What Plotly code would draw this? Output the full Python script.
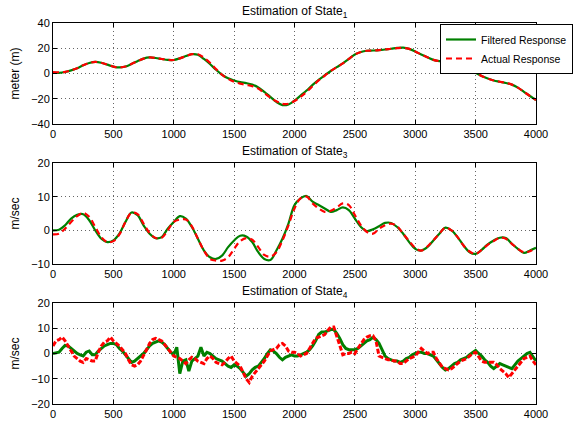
import plotly.graph_objects as go

# ---------------- data ----------------
x_state1 = list(range(0, 4001, 50))
state1_filtered = [0.5, 0.5, 1.2, 2.5, 4.2, 6.5, 8.3, 9.2, 8.5, 7, 5.5, 4.8, 5.5, 7.5, 9.8, 11.8,
                   12.7, 12.3, 11.5, 10.8, 10.7, 12, 13.8, 15.3, 14.8, 11.5, 7.5, 3, -1, -3.8, -5.5,
                   -6.8, -7.6, -8.8, -11, -14.5, -18.5, -22.5, -25, -24.5, -21.5, -17.5, -13.5, -9,
                   -5, -1.5, 2, 5, 8, 11.5, 15, 17, 18, 18.2, 18.5, 19, 19.6, 20.3, 20.5, 19.5, 17.5,
                   15, 12.8, 10.8, 9.8, 9.5, 9.5, 8.5, 6.5, 3.5, 0.5, -2, -4, -5.5, -6.5, -7.5, -8.8,
                   -11.2, -14.5, -17.8, -21]
state1_actual = [1.2, 1.0, 1.3, 2.5, 4.2, 6.5, 8.3, 9.2, 8.5, 7, 5.5, 4.8, 5.5, 7.5, 9.8, 11.8,
                 12.7, 12.3, 11.5, 10.8, 10.7, 12, 13.8, 15.3, 15.2, 12.5, 8.5, 3.5, -1, -4.2, -6.5,
                 -8, -9, -10, -12, -15.5, -19, -22, -24, -24, -21.8, -18.5, -14.5, -10, -5.5, -1.8,
                 2, 5, 8, 11.5, 15, 17, 18, 18.2, 18.5, 19, 19.6, 20.1, 20.3, 19.5, 17.5, 15, 12.8,
                 10.8, 9.8, 9.5, 9.5, 8.5, 6.5, 3.5, 0.5, -2, -4, -5.5, -6.5, -7.5, -8.8, -11.2,
                 -14.5, -17.8, -21]

x_state3 = list(range(0, 4001, 50))
state3_filtered = [0, 0.2, 1.5, 3.5, 4.6, 4.8, 3, 0, -2.5, -3.5, -3, -1, 2.5, 5.3, 4.5, 1.5, -1,
                   -2.3, -2, 0.5, 2.5, 4.2, 3.5, 1, -2.5, -6, -8, -8.5, -7.5, -5, -3, -1.6, -1.8,
                   -3.5, -6.5, -8.5, -8.8, -6, -2.5, 2, 7.5, 9.5, 10.2, 8.5, 7.5, 6.5, 5.5, 6, 6.8,
                   6, 3.5, 1, -0.2, 0.3, 1.2, 2.2, 2.2, 1, -1, -3.5, -5.5, -6, -5, -3, -1, 0.8, 0,
                   -2, -4.5, -6.5, -7, -5.8, -4.2, -3, -2.2, -2.3, -4, -5.5, -6.7, -6, -5.2]
state3_actual = [-1.2, -1, 0.5, 2.5, 4.2, 5.2, 4, 1, -2, -3.5, -3.2, -1.2, 2.5, 5.2, 4.8, 2, -0.8,
                 -2.3, -2.2, 0, 2.5, 3.2, 3.2, 1.2, -2.5, -6, -8.5, -9, -9, -8, -5.5, -3.2, -2.3,
                 -2.8, -5, -7.3, -7.8, -6.5, -3, 1.5, 6.5, 9.5, 10, 8, 6.5, 5.5, 5.8, 6.8, 8, 7.5,
                 4.5, 1.5, -0.5, -1, 0.5, 1.5, 2, 1.2, -1, -3.2, -5.2, -6, -4.8, -3, -1, 0.8, 0,
                 -2, -4.5, -6.3, -7, -5.8, -4.3, -3.2, -2.2, -2.5, -4, -5.5, -6.5, -6.2, -5.2]

x_state4 = list(range(0, 4001, 25))
state4_filtered = [0, 0.3, 0.5, 2, 3.2, 3, 2, 1, 0, -0.5, -1, 0.5, 1, -0.5, -0.5, 1, 2, 3, 3.5, 4,
                   4, 3.5, 2, 1, -0.5, -2, -3.5, -3, -2, -1, 0, 1.5, 3, 4, 4.5, 5, 4.5, 3.5, 2, 0.5,
                   -0.5, 2.5, -8, -3, -2.5, -7, -3, -2, -1, 2.5, -1, 0.5, 0, -1, -2, -2.5, -3, -4,
                   -5, -5.5, -4.5, -5, -6, -7.5, -9, -8, -6.5, -5.5, -5, -3.5, -2, 0, 1.5, 1, 0,
                   -1.5, -2.5, -1.5, -1, -0.5, -1, -1, -0.5, 0, 0.5, 1.5, 3, 5, 7.5, 8.5, 8.5, 9,
                   9.5, 9.5, 8, 6, 3.5, 2, 1.5, 1.5, 1.5, 2, 3, 4, 5, 5.5, 6.5, 5.5, 4, 1.5, -1, -2,
                   -2.5, -3, -3, -3.5, -3, -2, -1.5, -0.5, 0, 0.5, 0.5, 0, 0, -0.5, -1, -2.5, -4,
                   -5.5, -6.5, -6, -5, -4, -3.5, -2.5, -2, -1.5, -0.5, 0.5, 1.2, 0, -1, -2.5, -3.5,
                   -5, -6, -5, -4, -4.5, -5, -5.5, -6, -4.5, -3, -2, -1, 0, 0.5, -1.5, -3]
state4_actual = [3, 5, 5.5, 6.5, 5, 3, 1, -1, -2, -3, -3.5, -2, -2.5, -3, -3, 0.5, 3, 4.5, 5, 6.5,
                 5, 4, 3, 1.5, 0, -2.5, -4.5, -5, -4.5, -3, -1, 1.5, 4, 5.5, 6, 5.5, 5, 3.5, 2,
                 0.5, -1, -1.5, -2, -3, -4, -2.5, -1.5, -2, -3, -3.5, -4, -2, -1, -2, -3.5, -4,
                 -4.5, -3.5, -2, -1, -3, -4, -5, -7.5, -10, -11.5, -9, -7.5, -6, -4.5, -3, -1, 1,
                 1.5, 2, 3.5, 4, 3, 1, 0.5, 0.5, 0, -1, -0.5, 0, 2, 4, 6, 6.5, 7, 7.5, 9, 10.5,
                 10.5, 7, 3, -0.5, 0, 0, 0.5, 0, 2, 4, 5.5, 6.5, 7, 7, 5, -1, -1.5, -2, -2.5, -2.5,
                 -3, -3, -4, -4, -3, -2, -1.5, -1, 0.5, 2, 1, 0, 0.5, 0.5, -2, -4, -5.5, -6, -6.5,
                 -6, -5, -4, -3, -2.5, -2, -1, 0, 0.5, -1.5, -3, -3.5, -3.5, -3.5, -3.5, -4.5, -6,
                 -7, -8, -9.5, -8, -6.5, -5, -3.5, -2, -1.5, -1, -3, -4.5]

titles = ["Estimation of State<sub>1</sub>", "Estimation of State<sub>3</sub>",
          "Estimation of State<sub>4</sub>"]
ylabels = ["meter (m)", "m/sec", "m/sec"]
x_ticks = [0, 500, 1000, 1500, 2000, 2500, 3000, 3500, 4000]
y_ticks = [[-40, -20, 0, 20, 40], [-10, 0, 10, 20], [-20, -10, 0, 10, 20]]
y_ranges = [[-40, 40], [-10, 20], [-20, 20]]
legend_names = ["Filtered Response", "Actual Response"]

# ---------------- figure ----------------
W, H = 576, 421
GREEN = "#008000"
RED = "#ff0000"
FONT = "Liberation Sans, Arial, Helvetica, sans-serif"

x_dom = [53 / W, 536 / W]
panels_px = [(23, 124), (163, 264), (303, 404)]  # top, bottom pixel rows
y_doms = [[1 - b / H, 1 - t / H] for t, b in panels_px]

fig = go.Figure()
series = [
    (x_state1, state1_filtered, state1_actual, "shape"),
    (x_state3, state3_filtered, state3_actual, "shape"),
    (x_state4, state4_filtered, state4_actual, "noisy"),
]
for i, (xs, yf, ya, kind) in enumerate(series):
    ax = "" if i == 0 else str(i + 1)
    lw = 2.2 if kind == "shape" else 3
    shape = "spline" if kind == "shape" else "linear"
    dash = "6px,4px" if kind == "shape" else "5px,2px"
    fig.add_trace(go.Scatter(x=xs, y=yf, mode="lines", name=legend_names[0],
                             line=dict(color=GREEN, width=lw, shape=shape),
                             xaxis="x" + ax, yaxis="y" + ax, showlegend=(i == 0)))
    fig.add_trace(go.Scatter(x=xs, y=ya, mode="lines", name=legend_names[1],
                             line=dict(color=RED, width=lw, dash=dash, shape=shape),
                             xaxis="x" + ax, yaxis="y" + ax, showlegend=(i == 0)))

layout = dict(
    width=W, height=H,
    margin=dict(l=0, r=0, t=0, b=0),
    paper_bgcolor="white", plot_bgcolor="white",
    font=dict(family=FONT, size=11, color="black"),
    showlegend=True,
    legend=dict(x=440 / W, y=1 - 24 / H, xanchor="left", yanchor="top",
                bgcolor="white", bordercolor="black", borderwidth=1,
                font=dict(size=10.5), tracegroupgap=0, itemwidth=30),
)
annotations = []
for i in range(3):
    ax = "" if i == 0 else str(i + 1)
    layout["xaxis" + ax] = dict(
        domain=x_dom, range=[0, 4000], anchor="y" + ax,
        tickvals=x_ticks, ticks="inside", ticklen=4, tickcolor="black",
        showline=True, linecolor="black", linewidth=1, mirror="allticks",
        showgrid=True, gridcolor="#666666", griddash="1px,3px", gridwidth=1,
        zeroline=False, tickfont=dict(size=11), automargin=False,
    )
    layout["yaxis" + ax] = dict(
        domain=y_doms[i], range=y_ranges[i], anchor="x" + ax,
        tickvals=y_ticks[i], ticks="inside", ticklen=4, tickcolor="black",
        showline=True, linecolor="black", linewidth=1, mirror="allticks",
        showgrid=True, gridcolor="#666666", griddash="1px,3px", gridwidth=1,
        zeroline=False, tickfont=dict(size=11), automargin=False,
        title=dict(text=ylabels[i], font=dict(size=12), standoff=8),
    )
    top_px = panels_px[i][0]
    annotations.append(dict(
        text=titles[i], x=(x_dom[0] + x_dom[1]) / 2, y=1 - (top_px - 1) / H,
        xref="paper", yref="paper", xanchor="center", yanchor="bottom",
        showarrow=False, font=dict(size=12, family=FONT),
    ))
layout["annotations"] = annotations
fig.update_layout(**layout)

fig.write_html("out.html")
